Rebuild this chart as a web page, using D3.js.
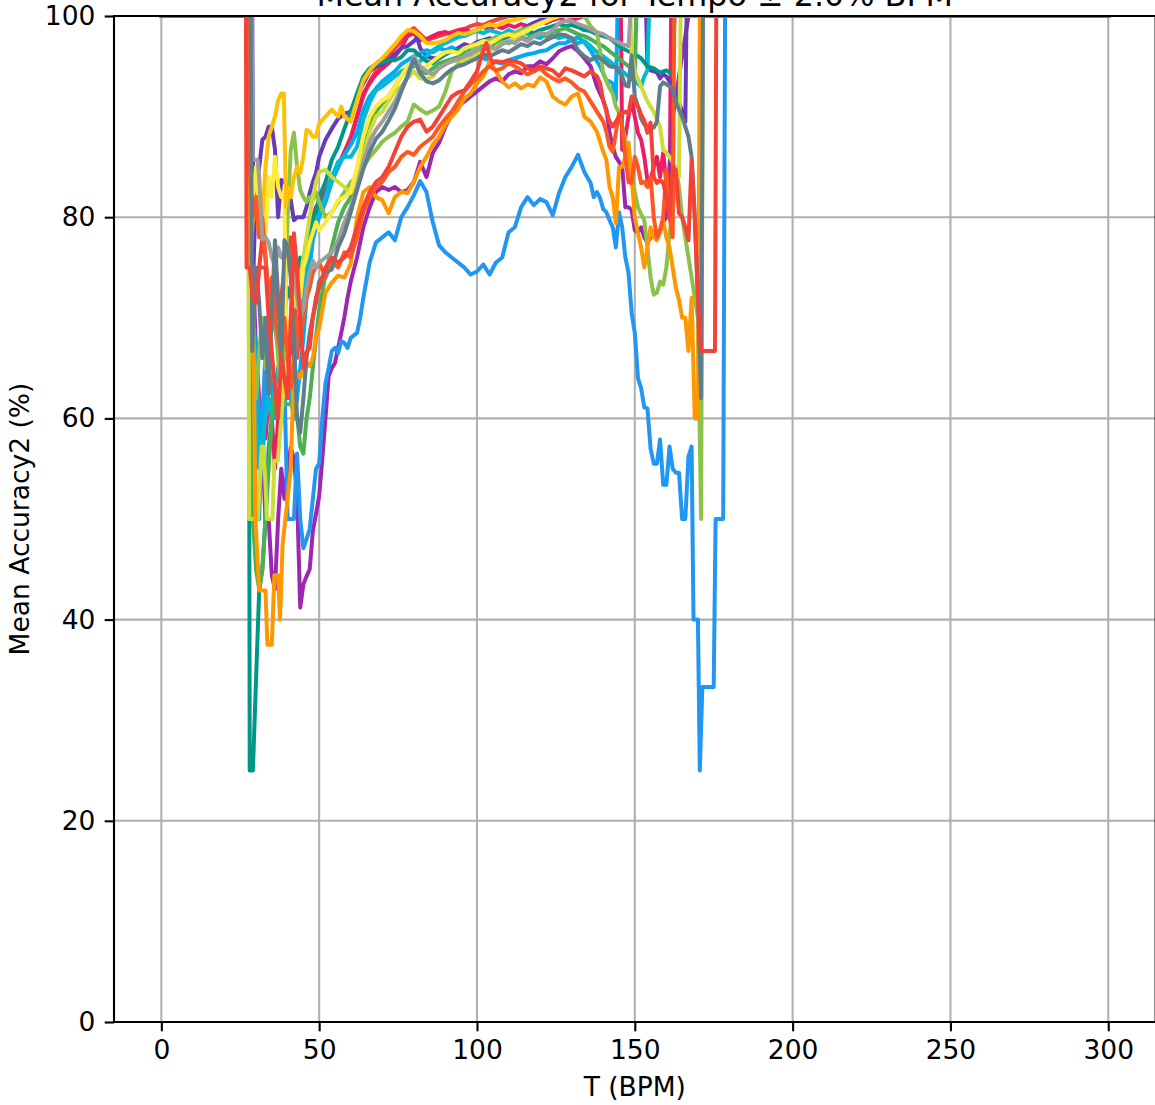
<!DOCTYPE html>
<html><head><meta charset="utf-8">
<script src="https://cdn.jsdelivr.net/npm/d3@7"></script>
<style>
body{margin:0;background:#fff;}
svg{display:block;}
text{font-family:"DejaVu Sans",sans-serif;fill:#000;}
</style>
</head><body>
<svg id="chart" width="1155" height="1105"></svg>
<script>
const title = "Mean Accuracy2 for Tempo ± 2.0% BPM";
const xLabel = "T (BPM)";
const yLabel = "Mean Accuracy2 (%)";
const xTicks = [0, 50, 100, 150, 200, 250, 300];
const yTicks = [0, 20, 40, 60, 80, 100];

// Each series: [tempo (BPM), mean accuracy2 (%)] points
const red1 = [[0,100],[27.7,100],[28,71.4],[29,71.4],[30,72],[31,75],[32,78],[33,76],[34,72],[35,70],[36,74],[37,70],[38,72],[39,75],[40,77],[41,78],[42,74],[43,66],[44,70],[45,73],[46,75],[47,77],[48,79],[49,80],[50,81],[52,82.5],[54,84],[56,85],[58,86.5],[60,88],[62,90],[64,92],[66,93.5],[68,94.5],[70,95.3],[72,96],[74,96.8],[76,97.5],[78,98.4],[80,98.8],[82,98.2],[84,97.6],[86,97.8],[88,98],[90,98.2],[92,98.4],[94,98.6],[96,98.7],[98,99],[100,99.2],[102,99.1],[104,99.4],[106,99.6],[108,99.8],[110,100],[300,100]];
const pink = [[0,100],[27.7,100],[28.2,75],[29,70],[30,66.7],[31,62],[32,60],[33,58],[34,62],[35,60],[36,55],[37,60],[38,63],[39,62],[40,65],[41,68],[42,66],[43,68],[44,69.8],[45,71.5],[46,73.3],[47,78.4],[48,80],[49,81],[50,81.5],[52,82.5],[54,83.7],[56,85],[58,86.5],[60,87.7],[62,90],[64,92.3],[66,93.3],[68,94.2],[70,94.8],[72,95.3],[74,96],[76,96.8],[78,98],[80,98.3],[82,97.6],[84,97.7],[86,98],[88,98.3],[90,98.4],[92,98.2],[94,98.5],[96,98.7],[98,98.4],[100,98.6],[102,98.9],[104,98.7],[106,99],[108,98.8],[110,99.1],[112,98.9],[114,99.2],[116,99],[118,99.3],[120,99.5],[122,99.3],[124,99.6],[126,99.8],[128,99.5],[130,99.6],[132,99.8],[134,100],[145.6,100],[146,86.7],[147,88],[148,90],[149,91.6],[150,90],[151,88.4],[152,87.7],[153,86],[154,83.7],[155,83.7],[156,85],[157,86],[158,84],[159,86.4],[160,83.4],[161,80.4],[161.5,100],[300,100]];
const purple = [[0,100],[27.7,100],[28,80],[29,75],[30,66.7],[31,60],[32,57],[33,50],[34,50],[35,44.4],[36,43],[37,50],[38,55],[39,52],[40,55],[41,57.1],[42,56],[43,52.3],[44,41.2],[45,43.5],[46,44.3],[47,45],[48,48.8],[49,50.5],[50,52.3],[51,56],[52,60],[53,64.2],[54,65],[55,65.5],[56,67],[57,68.5],[58,70.1],[59,72],[60,73.6],[62,76],[64,79],[66,81],[68,82.5],[70,83],[72,82.7],[74,83],[76,82.5],[78,82.7],[80,83.5],[82,85.5],[84,84],[86,86.4],[88,87.4],[90,89],[92,90.2],[94,91],[96,91.5],[98,92],[100,92.5],[102,93],[104,93.5],[106,93.8],[108,93.5],[110,94.2],[112,94.5],[114,94.3],[116,95],[118,95],[120,95.5],[122,95.2],[124,95.8],[126,96.5],[128,96.8],[130,97],[132,96.5],[134,95.8],[136,95],[138,93],[140,91.6],[141,90.7],[142,88.4],[143,87],[144,86],[145,85.5],[146,85],[147,81],[148,81],[149,80.7],[150,78.7],[151,78.5],[152,79],[153,78],[154,77.5],[155,78],[156,78.5],[157,78],[158,78.7],[159,79.5],[160,80],[161,85],[162,90],[163,91.6],[164,94],[165,96],[166,98],[167,100],[300,100]];
const deepPurple = [[0,100],[28.8,100],[29.2,75],[30,83],[31,85],[32,87.7],[33,88],[34,89],[35,89],[36,86.7],[37,80],[38,83.7],[39,83.5],[40,83],[41,81.7],[42,79.7],[43,80],[44,80],[45,80],[46,81],[47,82.4],[48,83.5],[49,84.4],[50,86],[52,87.7],[54,88.8],[56,89.8],[58,90.3],[60,90.5],[62,92],[64,93.3],[66,94.5],[68,95],[70,95.2],[72,95.6],[74,96.2],[76,96.8],[78,97],[80,97.5],[81,97.9],[82,96.8],[84,96],[86,95.8],[88,95.8],[90,96.2],[92,96.6],[94,96.8],[96,97.2],[98,97],[100,97.4],[102,97.6],[104,97.8],[106,97.5],[108,97.8],[110,98],[112,98.3],[114,98.6],[116,99],[118,99.3],[120,99.6],[122,99.8],[124,100],[153.6,100],[154,95],[155,94.6],[156,94.5],[157,94.4],[158,93.8],[159,94.2],[160,94],[161,93.5],[162,93],[163,92.5],[164,91.5],[165,90.5],[166,89.5],[166.4,100],[300,100]];
const blue = [[0,100],[27.7,100],[28,66.7],[29,66.7],[30,50],[31,50],[32,60],[33,66.7],[34,70],[35,71],[36,69],[37,67],[38,65],[39,63.5],[40,50],[41,50],[42,50],[43,56.5],[44,50],[45,47.1],[46,48],[47,49],[48,52],[49,55],[50,55.5],[51,60],[52,63.5],[53,65],[54,66.7],[55,67],[56,66.5],[57,67.7],[58,67.5],[59,67],[60,68],[62,68.5],[63,70],[64,72],[66,75.5],[68,77.5],[70,78],[72,78.5],[74,77.7],[76,80],[78,81],[80,82.2],[82,83.6],[84,82.5],[86,79.5],[88,77.2],[90,76.5],[92,76],[94,75.5],[96,75],[98,74.3],[100,74.6],[102,75.3],[104,74.3],[106,75.5],[108,76],[110,78.5],[112,79],[114,81],[116,82],[118,81.2],[120,81.8],[122,81.5],[124,80.2],[126,82.4],[128,84],[130,85],[132,86.2],[134,84.5],[136,83.4],[137,82],[138,82.5],[139,81.9],[140,80.8],[141,80.5],[142,79.7],[143,79],[144,77],[145,80.5],[146,79],[147,76],[148,74.5],[149,70.5],[150,68.5],[151,64],[152,63],[153,61.1],[154,61],[155,57],[156,55.5],[157,55.5],[158,57.9],[159,53.4],[160,53.4],[161,57.2],[162,55],[163,54.6],[164,54.6],[165,50],[166,50],[167,56.2],[168,57.2],[168.6,40],[170,40],[170.6,25],[171.4,33.3],[175,33.3],[175.6,50],[178,50],[178.6,100],[300,100]];
const lightBlue = [[0,100],[27.7,100],[28,80],[29,70],[30,66.7],[31,60],[32,55],[33,62],[34,65],[35,63],[36,60],[37,62],[38,65],[39,66],[40,64],[41,62],[42,60],[43,62],[44,65],[45,68],[46,72],[47,75],[48,77.7],[49,79],[50,80],[52,81.5],[54,83.5],[56,85],[58,86.2],[60,87.2],[62,88.4],[64,90.7],[66,92],[68,92.8],[70,93.5],[72,94],[74,94.5],[76,95.2],[78,95.6],[80,96],[82,96.3],[84,96.6],[86,96.4],[88,96.8],[90,96.6],[92,96.9],[94,96.5],[96,96.2],[98,96.6],[100,96],[102,95.8],[104,95.6],[106,95.4],[108,95.3],[110,95.6],[112,95.8],[114,96],[116,96.2],[118,96.3],[120,96.5],[122,96.6],[124,97],[126,97.3],[128,97.3],[130,97.6],[132,97.9],[134,97.4],[136,96.6],[137,96],[138,95.5],[139,95],[140,94.3],[141,93.6],[142,93.5],[143,93.3],[144,91.6],[144.5,100],[300,100]];
const cyan = [[0,100],[27.7,100],[28,75],[29,66.7],[30,60],[31,55],[32,58],[33,60],[34,62],[35,60],[36,63],[37,65],[38,66],[39,64],[40,62],[41,63],[42,65],[43,68],[44,70],[45,73.3],[46,75],[47,77],[48,78.5],[49,79.7],[50,80.5],[52,82],[54,84],[56,85.5],[58,86],[60,86],[62,87],[64,89.7],[66,91.4],[68,92.6],[70,93],[72,93.5],[74,94],[76,94.5],[78,94.8],[80,95],[82,95.5],[84,96],[86,96.6],[88,97],[90,97.3],[92,97.6],[94,97.9],[96,98],[98,98.3],[100,98.5],[102,98.3],[104,98.6],[106,98.4],[108,98.2],[110,98.6],[112,98.3],[114,98.5],[116,98.2],[118,98],[120,97.8],[122,98.2],[124,98],[126,97.8],[128,98],[130,97.6],[132,97.3],[134,97.5],[136,97],[138,96.4],[140,96],[142,95.5],[144,95],[146,94.5],[148,94],[150,93.5],[152,93],[153,94],[154,94.6],[154.5,100],[300,100]];
const teal = [[0,100],[27.6,100],[28,25],[29,25],[30,34],[31,42.9],[32,45],[33,50],[34,57],[35,60],[36,62],[37,60],[38,65],[39,70],[40,73],[41,72],[42,74],[43,73],[44,76],[45,75],[46,77],[47,78],[48,80],[49,80.5],[50,82],[52,83.5],[54,85.7],[56,87],[58,88.8],[60,90.5],[62,92.3],[64,94],[66,94.8],[68,95.2],[70,95.4],[72,95.6],[74,95.6],[76,95.9],[78,96.6],[80,96.6],[82,96],[84,95.5],[86,95.3],[88,95.8],[90,96.2],[92,96.5],[94,96.6],[96,96.8],[98,97],[100,97.2],[102,97.6],[104,97.5],[106,97.9],[108,97.7],[110,98],[112,98.2],[114,98.2],[116,98.5],[118,98.3],[120,98.6],[122,98.8],[124,99],[126,99.2],[128,99],[130,99.1],[132,98.9],[134,98.6],[136,98.5],[138,98.2],[140,98],[142,97.8],[144,97.3],[146,96.8],[148,96.5],[150,96.2],[152,95.8],[154,95],[156,94.8],[158,94.4],[160,94.6],[162,94.2],[162.6,100],[300,100]];
const green = [[0,100],[27.7,100],[28,75],[29,50],[30,45],[31,43],[32,45],[33,50],[34,55],[35,60],[36,62.4],[37,61.8],[38,61.5],[39,61.4],[40,61.4],[41,61.4],[42,61],[43,60.3],[44,57.2],[45,56.5],[46,60],[47,62],[48,65],[49,68],[50,70.8],[52,74.3],[54,77],[56,79.5],[58,81],[60,82],[62,84.5],[64,87],[66,89],[68,90.5],[70,91.3],[72,92],[74,93],[76,94],[78,94.8],[80,95.5],[82,94.6],[84,94.3],[86,94.8],[88,95.3],[90,95.5],[92,95.7],[94,95.9],[96,96.4],[98,96.2],[100,96.5],[102,97],[104,96.8],[106,97.2],[108,97.5],[110,97.3],[112,97.6],[114,97.9],[116,97.7],[118,98.1],[120,98.3],[122,98],[124,98.4],[126,98.6],[128,98.8],[130,98.5],[132,98.2],[134,98],[136,97.7],[138,97.3],[140,97],[142,96.5],[144,96],[146,95.5],[148,95],[150,94.5],[150.5,100],[300,100]];
const lightGreen = [[0,100],[27.7,100],[28,75],[29,66.7],[30,62],[31,66.7],[32,70],[33,65],[34,68],[35,72],[36,70],[37,66],[38,62],[39,70],[40,80],[41,86.7],[42,88.4],[43,85],[44,82.7],[45,82],[46,81.5],[47,82],[48,81.7],[49,82.5],[50,81.5],[52,80],[54,80.5],[56,81.5],[58,82.5],[60,83.5],[62,84],[64,85],[66,86],[68,86.7],[70,87.5],[72,88],[74,88.4],[76,89],[78,89.5],[80,91.2],[82,90.7],[84,90.3],[86,90.6],[88,91],[90,92.5],[92,94.5],[94,95.2],[96,96],[98,96.4],[100,97],[102,97.5],[104,97.6],[106,97.8],[108,98],[110,98.1],[112,98.3],[114,98.6],[116,98.8],[118,99],[120,99.2],[122,99.5],[124,99.8],[126,100],[134,100],[136,99],[138,98.3],[139,96.5],[140,94.3],[141,93.5],[142,92.8],[143,92.3],[144,91],[145,90.4],[146,89],[147,87.7],[148,86],[149,84.4],[150,82.5],[151,81],[152,80.3],[153,79.7],[154,77],[155,74],[156,72.3],[157,72.5],[158,73.6],[159,73.3],[160,75],[161,78.5],[162,80],[163,85],[164,83],[165,80],[166,78],[167,76],[168,74],[169,72],[170,70],[171,50],[171.6,100],[300,100]];
const lime = [[0,100],[27.5,100],[27.8,50],[30.6,50],[31.8,57.2],[32.4,57.2],[33.5,50],[35.2,50],[35.8,55.8],[36.9,55.8],[38,60],[39,64],[40,66],[41,70],[42,72],[43,71],[44,74],[45,76],[46,78],[47,80],[48,82],[49,83.5],[50,84.5],[52,84.7],[54,84],[56,83.5],[58,83],[60,82.4],[62,84],[64,86],[66,88.5],[68,90],[70,90.5],[72,91.5],[74,92.5],[76,93],[78,93.8],[80,94.5],[82,93.8],[84,93.7],[86,94],[88,94.8],[90,95.2],[92,95.5],[94,95.6],[96,95.5],[98,95.8],[100,96.2],[102,96.8],[104,96.5],[106,96.9],[108,97.3],[110,97.5],[112,97.8],[114,98.2],[116,98.5],[118,99],[120,99.3],[122,99.5],[124,99.8],[126,100],[148.6,100],[149,96.4],[150,94.5],[152,93],[154,91.5],[156,90.5],[158,89],[159,86.7],[160,86.4],[161,86],[162,85.5],[163,84.7],[164,84],[164.5,100],[300,100]];
const yellow = [[0,100],[27.7,100],[28,85],[29,82],[30,85],[31,80],[32,82],[33,78],[34,84],[35,82],[36,86],[37,83],[38,82],[39,82.3],[39.6,67.3],[41,70],[42,72],[43,74],[44,72],[45,75],[46,76],[47,77.5],[48,78.5],[49,79.5],[50,78.7],[52,79.5],[54,80.5],[56,81.7],[58,82],[60,82.5],[62,85],[64,88],[66,90],[68,91],[70,91.6],[72,92],[74,93],[76,94],[78,95],[80,95.3],[82,94.8],[84,95],[86,95.5],[88,96],[90,96.4],[92,96.5],[94,96.3],[96,96.8],[98,97],[100,97.2],[102,97.5],[104,97.3],[106,97.6],[108,98],[110,98.2],[112,98],[114,98.3],[116,98.6],[118,98.9],[120,99.2],[122,99.5],[124,99.8],[126,100],[300,100]];
const amber = [[0,100],[27.7,100],[28,75],[29,80],[30,82],[31,78],[32,80],[33,85],[34,88],[35,89],[36,90],[37,91.6],[38,92.3],[38.8,92.3],[39.5,81],[40,83],[41,82],[42,84],[43,85],[44,84.4],[45,86],[46,88.7],[47,88.5],[48,88],[49,88],[50,89.3],[52,90],[54,90.7],[56,90],[57,91],[58,90],[60,89.5],[62,91.6],[64,93.6],[66,94.6],[68,95.3],[70,95.8],[72,96.5],[74,97.2],[76,98],[78,98.6],[80,98.5],[82,98],[84,97.3],[86,97.3],[88,97.4],[90,97.6],[92,98],[94,98.3],[96,98.2],[98,98.4],[100,98.6],[102,98.9],[104,99.2],[106,99],[108,99.3],[110,99.5],[112,99.6],[114,99.8],[116,100],[300,100]];
const orange = [[0,100],[27.7,100],[28,75],[29,75],[29.8,50],[31,42.9],[33,42.9],[33.6,37.5],[35,37.5],[35.8,44.4],[37,44.4],[37.6,40],[38.4,47.4],[40,52],[41,55],[42,65],[43,64.5],[44,64],[45,65],[46,65.5],[47,65.2],[48,66],[49,68],[50,69],[52,72.5],[54,73.5],[56,74.2],[58,74],[60,75.4],[62,80],[64,82.5],[66,83],[68,82],[70,81.7],[72,80.4],[74,82],[76,82.5],[78,82.4],[80,83.5],[82,85],[84,86],[86,87.2],[88,88],[90,89.2],[92,90],[94,90.7],[96,91.8],[98,92.3],[100,93.3],[102,94],[104,95.5],[106,94.5],[108,93.5],[110,92.9],[112,93.3],[114,92.8],[116,93.2],[118,93],[120,93.9],[122,93.5],[124,92],[126,91.5],[128,91.2],[130,92],[132,92.3],[134,90],[136,89.5],[138,88.5],[140,86.5],[141,85.7],[142,83],[143,82],[144,79.4],[145,85],[146,85],[147,86],[148,87.4],[149,84],[150,80],[151,78.4],[152,77],[153,75],[154,77],[155,79],[156,78],[157,77.7],[158,78.5],[159,79.7],[160,78],[161,77],[162,75],[163,73],[164,71.8],[165,70],[166,70],[167,66.7],[168,72],[169,60],[170,60],[170.6,100],[300,100]];
const deepOrange = [[0,100],[27.7,100],[28,85],[29,80],[30,82],[31,78],[32,80],[33,76],[34,72],[35,74],[36,70],[37,68],[38,66],[39,70],[40,66],[41,63],[42,66],[43,70],[44,68],[45,70],[46,72],[47,73],[48,74.5],[49,75],[50,75.5],[52,74],[54,75.5],[56,75],[58,76.5],[60,76],[62,78],[64,80.5],[66,82],[68,83],[70,83.5],[72,84.5],[74,85],[76,86],[78,86.5],[80,86.2],[82,87],[84,87.5],[86,88],[88,89],[90,89.8],[92,90.5],[94,91.5],[96,92.5],[98,93.2],[100,93.8],[102,94.5],[104,95],[106,94.6],[108,94.8],[110,95.3],[112,95],[114,94.6],[116,94.2],[118,94.5],[120,94.8],[122,94.2],[124,93.8],[126,93.5],[128,93.8],[130,93.4],[132,92.8],[134,92.5],[136,91.5],[138,90.5],[140,89.5],[141,88.5],[142,87],[143,86.5],[144,88.4],[145,90.3],[146,89],[147,86],[148,83.5],[149,83.4],[150,86],[151,85],[152,83.4],[153,83.5],[154,83],[155,84],[156,80],[157,78],[158,78.7],[159,80],[160,84.7],[161,80],[162,78],[162.5,100],[300,100]];
const grey = [[0,100],[28.6,100],[29,85.7],[30.5,85.7],[31,84],[32,77.8],[33,78],[34,77.5],[35,76],[36,75],[37,77],[38,76],[39,76],[40,77],[41,75],[42,74],[43,72],[44,70],[45,71],[46,73],[47,74.5],[48,75.7],[49,75],[50,75.5],[52,76],[54,76.5],[56,77.7],[58,79.5],[60,81],[62,83],[64,85.5],[66,87.5],[68,88.7],[70,89.5],[72,90.5],[74,91.5],[76,92.8],[78,94],[80,96],[82,95],[84,94.5],[86,94.2],[88,94.8],[90,95.2],[92,95.5],[94,95.7],[96,96],[98,96.2],[100,96.6],[102,96.8],[104,97],[106,96.7],[108,97.2],[110,97.5],[112,97.3],[114,97.8],[116,97.5],[118,98],[120,98.3],[122,98.2],[124,98.6],[126,99.3],[128,99.5],[130,99.5],[132,99.2],[134,99],[136,98.7],[138,98.4],[140,98.2],[142,97.8],[144,97.5],[146,97.2],[148,97],[148.6,100],[300,100]];
const blueGrey = [[0,100],[28.3,100],[28.8,66.7],[30,75],[31,71.5],[32,66],[33,70],[34,62.4],[35,70.5],[36,77.7],[37,72],[38,66],[39,77.7],[40,77],[41,74],[42,68],[43,60],[44,58.6],[45,62],[46,66],[47,68.5],[48,70.1],[49,71.5],[50,73.6],[52,74.5],[54,74.8],[56,77],[58,78.4],[60,80.5],[62,82.7],[64,84.8],[66,86.5],[68,87.8],[70,88.5],[72,89.6],[74,90.8],[76,92.5],[78,94],[80,95.7],[82,94.3],[84,93.5],[86,93.3],[88,93.6],[90,94.2],[92,94.7],[94,95],[96,95.2],[98,95.5],[100,95.8],[102,96.2],[104,96],[106,96.3],[108,96.6],[110,96.4],[112,96.8],[114,97.2],[116,97],[118,97.4],[120,97.2],[122,97.6],[124,97.9],[126,98.2],[128,98.1],[130,97.8],[132,96.6],[134,96],[136,95.6],[138,96],[140,95.6],[142,95],[144,94.9],[146,94],[147,93.1],[148,93],[149,96.1],[150,92],[151,91],[152,89.8],[153,89.2],[154,89.1],[155,89],[156,88.9],[157,89.5],[158,93],[159,93.4],[160,93.2],[161,93],[162,92.8],[163,91.5],[164,90.7],[165,90],[166,89],[167,88],[168,86],[169,80],[170,72],[171,62],[171.6,100],[300,100]];
const red2 = [[0,100],[26.8,100],[27,75],[28,75],[29,72],[30,71.5],[31,75],[32,75],[33,75],[34,70],[35,66.6],[36,63],[37,60],[38,66.3],[39,64],[40,62],[41,70],[42,78.4],[43,74.7],[44,70],[45,65],[46,66.6],[47,67],[48,70],[49,72],[50,73],[52,75],[54,76],[56,75.5],[58,76],[60,77],[62,79],[64,81],[66,82.5],[68,83.5],[70,84],[72,85],[74,86.5],[76,88],[78,89],[80,89.5],[82,89.7],[84,88.5],[86,89],[88,90],[90,91],[92,92],[94,92.4],[96,92.6],[98,93.5],[100,94.5],[102,96.6],[103,97.3],[104,96],[105,95.3],[106,95.5],[108,95.4],[110,95.6],[112,95.5],[114,95.3],[116,94.8],[118,94.6],[120,95],[122,94.8],[124,94.6],[126,94],[128,94.8],[130,94.6],[132,94.3],[134,94],[136,94.5],[138,94],[139,93.3],[140,91.6],[141,90.5],[142,89.5],[143,89],[144,89.5],[145,90],[146,90.3],[147,90.5],[148,90.3],[149,92],[150,91.5],[151,91],[152,90.2],[153,89.6],[154,88.4],[155,89.4],[156,84],[157,83.4],[158,83.7],[159,83.4],[160,82],[161,80],[162,85],[163,84.7],[164,80.4],[165,80],[166,79],[167,77.7],[168,85.7],[169,80],[170,72],[171,66.7],[175.4,66.7],[175.8,100],[300,100]];

const seriesData = [red1, pink, purple, deepPurple, blue, lightBlue, cyan, teal, green, lightGreen, lime, yellow, amber, orange, deepOrange, grey, blueGrey, red2];
const seriesColors = ["#F44336","#E91E63","#9C27B0","#673AB7","#2196F3","#03A9F4","#00BCD4","#009688","#4CAF50","#8BC34A","#CDDC39","#FFEB3B","#FFC107","#FF9800","#FF5722","#9E9E9E","#607D8B","#F44336"];

const L = 114, R = 1155.6, T = 16, B = 1022;
const fs = 26.5;
const svg = d3.select("#chart");
const x = d3.scaleLinear().domain([-15, 315]).range([L, R]);
const y = d3.scaleLinear().domain([0, 100]).range([B, T]);

svg.append("defs").append("clipPath").attr("id","clip")
  .append("rect").attr("x",L).attr("y",T).attr("width",R-L).attr("height",B-T);

// grid
const grid = svg.append("g");
grid.selectAll(".gx").data(xTicks).join("line")
  .attr("x1",d=>x(d)).attr("x2",d=>x(d)).attr("y1",T).attr("y2",B)
  .attr("stroke","#b0b0b0").attr("stroke-width",2.1);
grid.selectAll(".gy").data(yTicks).join("line")
  .attr("y1",d=>y(d)).attr("y2",d=>y(d)).attr("x1",L).attr("x2",R)
  .attr("stroke","#b0b0b0").attr("stroke-width",2.1);

// lines
const line = d3.line().x(d=>x(d[0])).y(d=>y(d[1]));
const lg = svg.append("g").attr("clip-path","url(#clip)");
lg.selectAll("path").data(seriesData).join("path")
  .attr("d", line)
  .attr("fill","none")
  .attr("stroke",(d,i)=>seriesColors[i])
  .attr("stroke-width",4)
  .attr("stroke-linejoin","round")
  .attr("stroke-linecap","square");

// axes
const xAxis = svg.append("g").attr("transform",`translate(0,${B})`)
  .call(d3.axisBottom(x).tickValues(xTicks).tickFormat(d3.format("d")).tickSize(9.3).tickPadding(9.3));
const yAxis = svg.append("g").attr("transform",`translate(${L},0)`)
  .call(d3.axisLeft(y).tickValues(yTicks).tickFormat(d3.format("d")).tickSize(9.3).tickPadding(9.3));
[xAxis, yAxis].forEach(a=>{
  a.select(".domain").remove();
  a.selectAll(".tick line").attr("stroke","#000").attr("stroke-width",2.1);
  a.selectAll(".tick text").attr("font-size",fs).attr("font-family","DejaVu Sans").attr("fill","#000");
});

// spines
const sp = svg.append("g").attr("stroke","#000").attr("stroke-width",2.1).attr("stroke-linecap","square");
sp.append("line").attr("x1",L).attr("x2",L).attr("y1",T).attr("y2",B);
sp.append("line").attr("x1",L).attr("x2",R).attr("y1",B).attr("y2",B);
sp.append("line").attr("x1",L).attr("x2",R).attr("y1",T).attr("y2",T);
sp.append("line").attr("x1",R).attr("x2",R).attr("y1",T).attr("y2",B);

// labels
svg.append("text").attr("x",(L+R)/2).attr("y",1096).attr("text-anchor","middle")
  .attr("font-size",fs).text(xLabel);
svg.append("text").attr("transform",`translate(29,${(T+B)/2}) rotate(-90)`).attr("text-anchor","middle")
  .attr("font-size",fs).text(yLabel);
svg.append("text").attr("x",(L+R)/2).attr("y",6).attr("text-anchor","middle")
  .attr("font-size",fs*1.2).text(title);
</script>
</body></html>
